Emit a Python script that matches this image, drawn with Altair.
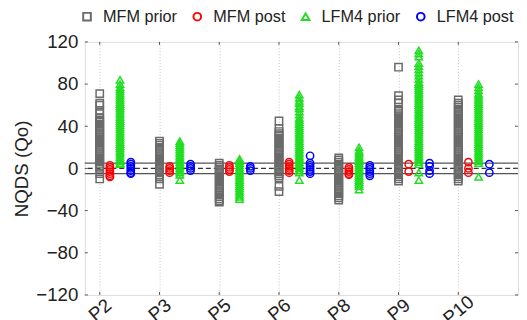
import altair as alt
import pandas as pd

CATEGORIES = ["P2", "P3", "P5", "P6", "P8", "P9", "P10"]
SERIES = ["MFM prior", "MFM post", "LFM4 prior", "LFM4 post"]

MFM_PRIOR = [
    [71, 62, 60, 55, 52, 48, 46, 44, 42, 40, 38, 36, 34, 32, 30, 28, 26, 24, 22, 20, 18, 16, 14, 12, 10, 8, 6, 4, 2, 0, -5, -10],
    [26, 24, 22, 20, 18, 16, 14, 12, 10, 8, 6, 4, 2, 0, -2, -4, -6, -8, -10, -15],
    [5, 3, 1, -1, -3, -5, -7, -9, -11, -13, -15, -17, -19, -21, -23, -25, -27, -29, -31, -32],
    [45, 38, 35, 33, 31, 29, 27, 25, 23, 21, 19, 17, 15, 13, 11, 9, 7, 5, 3, 1, -1, -3, -5, -7, -9, -17, -22],
    [10, 8, 6, 4, 2, 0, -2, -4, -6, -8, -10, -12, -14, -16, -18, -20, -22, -24, -26, -28, -30],
    [96, 69, 65, 62, 56, 54, 52, 50, 48, 46, 44, 42, 40, 38, 36, 34, 32, 30, 28, 26, 24, 22, 20, 18, 16, 14, 12, 10, 8, 6, 4, 2, 0, -2, -4, -6, -8, -10, -12],
    [65, 62, 60, 58, 56, 54, 52, 50, 48, 46, 44, 42, 40, 38, 36, 34, 32, 30, 28, 26, 24, 22, 20, 18, 16, 14, 12, 10, 8, 6, 4, 2, 0, -2, -4, -6, -8, -10, -12],
]
MFM_POST = [
    [3, 1, -1, -3, -5, -7, -8],
    [2, 0, -2, -4],
    [3, 1, -1, -3],
    [6, 4, 2, 0, -2, -4],
    [1, -1, -3, -5, -6],
    [4, -3],
    [6, 0, -4],
]
LFM4_PRIOR = [
    [84, 80, 77, 75, 73, 71, 69, 67, 65, 63, 61, 59, 57, 55, 53, 51, 49, 47, 45, 43, 41, 39, 37, 35, 33, 31, 29, 27, 25, 23, 21, 19, 17, 15, 13, 11, 9, 7, 5, 4],
    [26, 24, 22, 20, 18, 16, 14, 12, 10, 8, 6, 4, 2, 0, -2, -4, -6, -11],
    [9, 7, 5, 3, 1, -1, -3, -5, -7, -9, -11, -13, -15, -17, -19, -21, -23, -25, -27, -29],
    [70, 67, 64, 62, 59, 57, 54, 51, 48, 46, 44, 42, 40, 38, 36, 34, 32, 30, 28, 26, 24, 22, 20, 18, 16, 14, 12, 10, 8, 6, 4, 2, 0, -2, -4, -11],
    [20, 17, 15, 13, 11, 9, 7, 5, 3, 1, -1, -3, -5, -7, -9, -11, -13, -15, -17, -20],
    [112, 109, 106, 100, 97, 94, 91, 88, 85, 82, 80, 78, 76, 74, 72, 70, 68, 66, 64, 62, 60, 58, 56, 54, 52, 50, 48, 46, 44, 42, 40, 38, 36, 34, 32, 30, 28, 26, 24, 22, 20, 18, 16, 14, 12, 10, 8, 6, 4, -4, -11],
    [80, 77, 74, 71, 69, 67, 65, 63, 61, 59, 57, 55, 53, 51, 49, 47, 45, 43, 41, 39, 37, 35, 33, 31, 29, 27, 25, 23, 21, 19, 17, 15, 13, 11, 9, 7, 5, -8],
]
LFM4_POST = [
    [6, 4, 2, 0, -2, -4, -5],
    [4, 2, 0, -2],
    [2, 0, -2],
    [12, 5, 3, 1, -1, -3, -5],
    [3, 1, -1, -3, -5, -7],
    [5, 2, -2, -5],
    [4, -4],
]
REF_LINES = [-5, 0, 5]
Y_TICKS = [-120, -80, -40, 0, 40, 80, 120]

# layout (not data)
OFFSETS = {"MFM prior": 0.0, "MFM post": 0.17, "LFM4 prior": 0.34, "LFM4 post": 0.52}
COLORS = ["#6a6a6a", "#ff0000", "#22dd22", "#0000ff"]
SHAPES = ["square", "circle", "triangle-up", "circle"]
X_MIN, X_MAX = 0.75, 8.0
Y_MIN, Y_MAX = -120, 120
FONT = "Liberation Sans"

rows = []
for name, groups in zip(SERIES, [MFM_PRIOR, MFM_POST, LFM4_PRIOR, LFM4_POST]):
    for i, vals in enumerate(groups):
        for v in vals:
            rows.append({"series": name, "idx": i + 1, "value": v})
df = pd.DataFrame(rows)
df["x"] = df["idx"] + df["series"].map(OFFSETS)

xscale = alt.Scale(domain=[X_MIN, X_MAX], nice=False, zero=False)
yscale = alt.Scale(domain=[Y_MIN, Y_MAX], nice=False, zero=False)

label_expr = "[" + ",".join("'" + c + "'" for c in CATEGORIES) + "][datum.value - 1]"

ref_df = pd.DataFrame({"y": REF_LINES, "kind": ["band", "zero", "band"]})
band_lines = alt.Chart(ref_df[ref_df.kind == "band"]).mark_rule(
    color="#555555", strokeWidth=1.2
).encode(y=alt.Y("y:Q", scale=yscale))
zero_line = alt.Chart(ref_df[ref_df.kind == "zero"]).mark_rule(
    color="#333333", strokeWidth=1.2, strokeDash=[5, 3]
).encode(y=alt.Y("y:Q", scale=yscale))

points = alt.Chart(df).mark_point(filled=False, strokeWidth=1.5, size=55, opacity=1).encode(
    x=alt.X(
        "x:Q",
        scale=xscale,
        axis=alt.Axis(
            values=list(range(1, len(CATEGORIES) + 1)),
            labelExpr=label_expr,
            title=None,
            tickSize=0,
            domain=False,
            grid=True,
            gridDash=[1, 2],
            gridColor="#c4c4c4",
            labelAngle=-40,
            labelAlign="center",
            labelBaseline="middle",
            labelPadding=15,
            labelFontSize=19,
            labelFont=FONT,
            labelColor="#222222",
        ),
    ),
    y=alt.Y(
        "value:Q",
        scale=yscale,
        axis=alt.Axis(
            values=Y_TICKS,
            title="NQDS (Qo)",
            titleFontSize=19,
            titleFont=FONT,
            titleFontWeight="normal",
            titleColor="#222222",
            titlePadding=4,
            tickSize=0,
            domain=False,
            grid=False,
            labelPadding=7,
            labelFontSize=19,
            labelFont=FONT,
            labelColor="#222222",
        ),
    ),
    color=alt.Color(
        "series:N",
        scale=alt.Scale(domain=SERIES, range=COLORS),
        legend=alt.Legend(
            title=None,
            orient="none",
            legendX=-6,
            legendY=-34,
            direction="horizontal",
            columns=4,
            labelFontSize=16.5,
            labelFont=FONT,
            labelColor="#222222",
            symbolSize=60,
            symbolStrokeWidth=2,
            labelOffset=8,
            columnPadding=12,
            padding=0,
        ),
    ),
    shape=alt.Shape("series:N", scale=alt.Scale(domain=SERIES, range=SHAPES), legend=None),
    order=alt.Order("series_order:Q"),
).transform_calculate(
    series_order="indexof(" + str(SERIES).replace('"', "'") + ", datum.series)"
)

xt = pd.DataFrame({"t": list(range(1, len(CATEGORIES) + 1))})
yt = pd.DataFrame({"t": Y_TICKS})
tick_len_y = 2.8
tick_len_x = 0.05
bottom_ticks = alt.Chart(xt).mark_rule(color="#555555").encode(
    x=alt.X("t:Q", scale=xscale), y=alt.datum(Y_MIN, scale=yscale), y2=alt.datum(Y_MIN + tick_len_y)
)
top_ticks = alt.Chart(xt).mark_rule(color="#555555").encode(
    x=alt.X("t:Q", scale=xscale), y=alt.datum(Y_MAX, scale=yscale), y2=alt.datum(Y_MAX - tick_len_y)
)
left_ticks = alt.Chart(yt).mark_rule(color="#555555").encode(
    y=alt.Y("t:Q", scale=yscale), x=alt.datum(X_MIN, scale=xscale), x2=alt.datum(X_MIN + tick_len_x)
)
right_ticks = alt.Chart(yt).mark_rule(color="#555555").encode(
    y=alt.Y("t:Q", scale=yscale), x=alt.datum(X_MAX, scale=xscale), x2=alt.datum(X_MAX - tick_len_x)
)

chart = alt.layer(
    band_lines, zero_line, points, bottom_ticks, top_ticks, left_ticks, right_ticks
).properties(
    width=440,
    height=257,
    autosize=alt.AutoSizeParams(type="none"),
    padding={"left": 78, "top": 32, "right": 1, "bottom": 23},
).configure_view(
    stroke="#666666", strokeWidth=1
).configure(background="white")

chart.save("out.html", embed_options={"renderer": "svg", "actions": False})
